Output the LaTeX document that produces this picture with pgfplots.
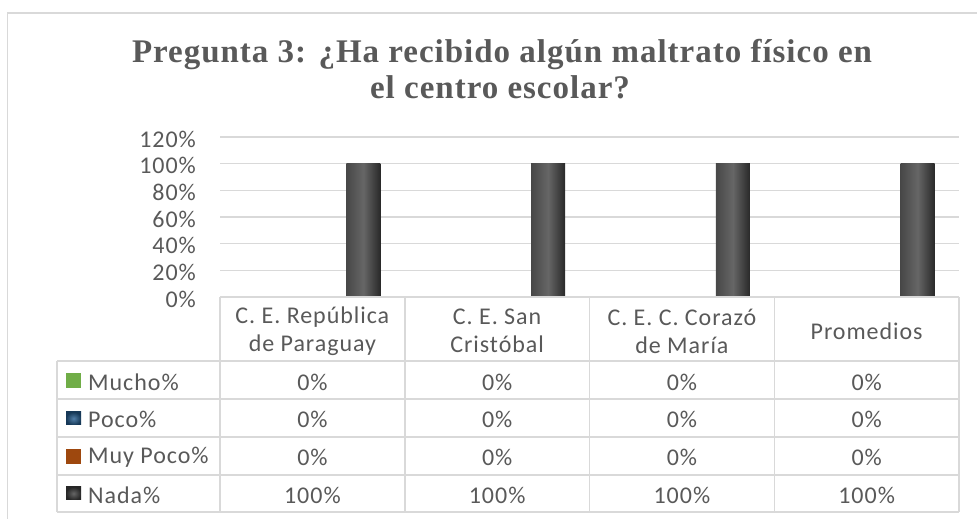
\documentclass[border=0pt]{standalone}
\usepackage{fontspec}
\setmainfont{Carlito}
\newfontfamily\calf{Carlito}[LetterSpace=4]
\newfontfamily\titf{Liberation Serif}[LetterSpace=3]
\usepackage{pgfplots}
\usepackage{pgfplotstable}
\pgfplotsset{compat=1.18}

\definecolor{txt}{HTML}{595959}
\definecolor{gridc}{HTML}{D9D9D9}
\definecolor{cMucho}{HTML}{70AD47}
\definecolor{cPoco}{HTML}{255E91}
\definecolor{cMuyPoco}{HTML}{9E480E}
\definecolor{cNada}{HTML}{404040}

\pgfplotstableread{
x   Mucho Poco MuyPoco Nada
0.5 0     0    0       100
1.5 0     0    0       100
2.5 0     0    0       100
3.5 0     0    0       100
}\datatable

\newcommand{\tfont}{\calf\fontsize{24bp}{28bp}\selectfont}

\begin{document}
\begin{tikzpicture}
\useasboundingbox (0,0) rectangle (977bp,519bp);
\begin{axis}[
  at={(220bp,222bp)}, anchor=south west,
  scale only axis, width=739bp, height=160bp,
  xmin=0, xmax=4, ymin=0, ymax=120,
  enlargelimits=false,
  xtick=\empty,
  ytick={0,20,...,120},
  yticklabels={0\%,20\%,40\%,60\%,80\%,100\%,120\%},
  /pgf/number format/assume math mode=true,
  ymajorgrids, grid style={gridc, line width=1.3bp},
  axis line style={draw=none},
  major tick length=0pt,
  yticklabel style={font=\tfont, text=txt, inner sep=0pt, anchor=east, xshift=-24bp, yshift=-2bp},
  ybar, bar width=34bp,
  clip=false,
  nada/.style={draw=none, left color=black!72, right color=black!84, middle color=black!60, bar shift=51bp},
]
\addplot[draw=none, fill=cMucho, bar shift=-51bp] table[x=x, y=Mucho] \datatable;
\addplot[draw=none, fill=cPoco, bar shift=-17bp] table[x=x, y=Poco] \datatable;
\addplot[draw=none, fill=cMuyPoco, bar shift=17bp] table[x=x, y=MuyPoco] \datatable;
\addplot[nada, restrict x to domain=0:1] table[x=x, y=Nada] \datatable;
\addplot[nada, restrict x to domain=1:2] table[x=x, y=Nada] \datatable;
\addplot[nada, restrict x to domain=2:3] table[x=x, y=Nada] \datatable;
\addplot[nada, restrict x to domain=3:4] table[x=x, y=Nada] \datatable;
\end{axis}

\begin{scope}[yshift=519bp, x=1bp, y=-1bp]
  % outer frame
  \draw[gridc, line width=1.5bp] (7.5,520) -- (7.5,13) -- (978,13);
  % title
  \node[anchor=base, text=txt, inner sep=0pt] at (502,63) {\titf\bfseries\fontsize{33bp}{36bp}\selectfont Pregunta 3: ¿Ha recibido algún maltrato físico en};
  \node[anchor=base, text=txt, inner sep=0pt] at (500,99) {\titf\bfseries\fontsize{33bp}{36bp}\selectfont el centro escolar?};
  % table lines
  \begin{scope}[gridc, line width=1.5bp]
    \draw (220,297) -- (959,297);
    \foreach \yy in {361,399,437,475,512} \draw (57,\yy) -- (959,\yy);
    \foreach \xx in {220,404.75,589.5,774.25,959} \draw (\xx,297) -- (\xx,512);
    \draw (57,361) -- (57,512);
  \end{scope}
  % header
  \foreach \lab [count=\i from 0] in {{C. E. República\\de Paraguay},{C. E. San\\Cristóbal},{C. E. C. Corazó\\de María},{Promedios}}
    \node[align=center, text=txt, inner sep=0pt, font=\tfont] at ({312.4+\i*184.75},331) {\lab};
  % row labels and keys
  \foreach \lab [count=\r from 0] in {Mucho\%, Poco\%, Muy Poco\%, Nada\%}{
    \node[anchor=west, text=txt, inner sep=0pt, font=\tfont] at (88,{382+\r*37.75}) {\lab};
  }
  \fill[cMucho] (66,373) rectangle (81,388);
  \shade[inner color=cPoco!80!white, outer color=cPoco!60!black] (66,412) rectangle (81,425);
  \fill[cMuyPoco] (66,449) rectangle (81,464);
  \shade[inner color=black!60, outer color=black!85] (66,487) rectangle (81,500);
  % values from the data table
  \foreach \col [count=\r from 0] in {Mucho,Poco,MuyPoco,Nada}{
    \foreach \c in {0,1,2,3}{
      \pgfplotstablegetelem{\c}{\col}\of\datatable
      \node[text=txt, inner sep=0pt, font=\tfont] at ({312.4+\c*184.75},{382+\r*37.75}) {\pgfplotsretval\%};
    }
  }
\end{scope}
\end{tikzpicture}
\end{document}
